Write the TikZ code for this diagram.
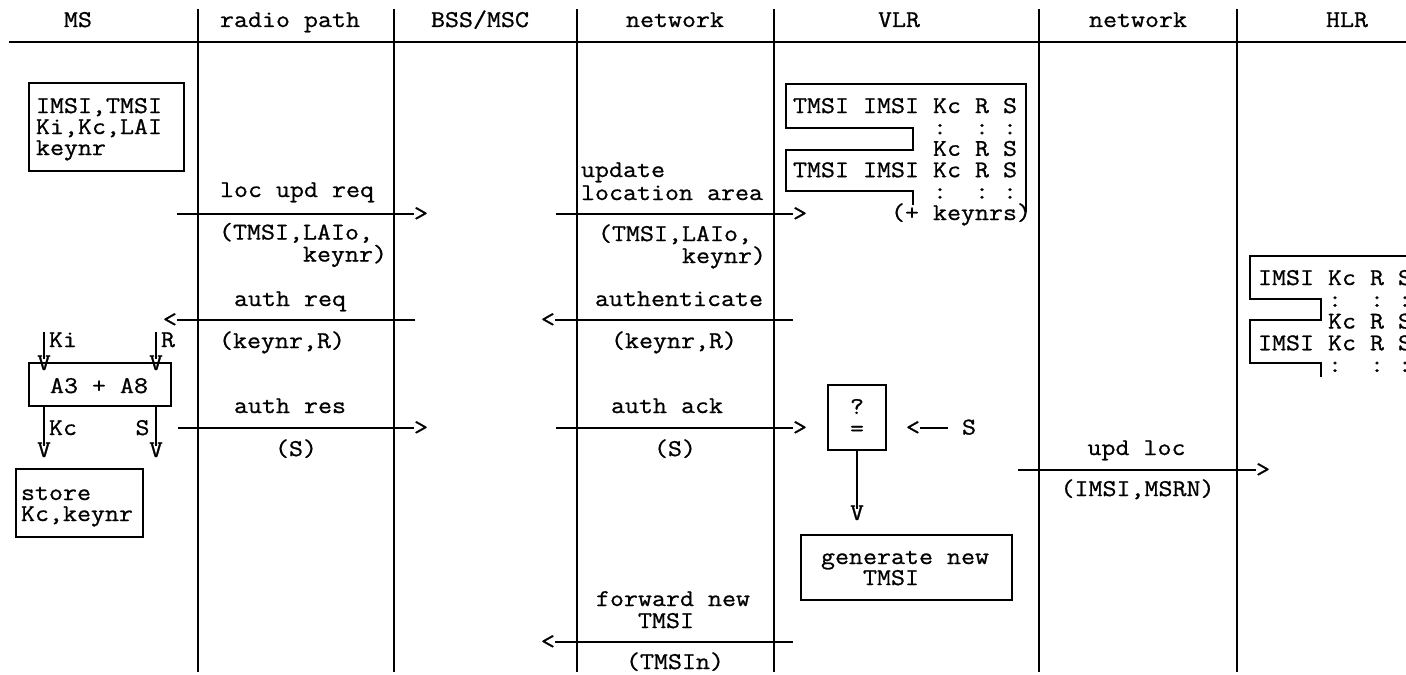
\documentclass[tikz,border=0pt]{standalone}
\usepackage{fontspec}
\newlength\chw
\settowidth\chw{\fontsize{12}{14}\selectfont\ttfamily M}
\pgfmathsetmacro\ttsx{7/\chw}
\newfontfamily\cour[FakeStretch=\ttsx,FakeBold=0.9]{lmmono12-regular.otf}
\newcommand\myfont{\fontsize{12}{14}\cour\frenchspacing}
\newcommand\stk[2]{\vtop{\baselineskip=#1\lineskiplimit=-50pt\relax\halign{##\hfil\cr#2\crcr}}}
\newcommand\stkc[2]{\vtop{\baselineskip=#1\lineskiplimit=-50pt\relax\halign{\hfil##\hfil\cr#2\crcr}}}
\begin{document}
\begin{tikzpicture}[x=0.5pt,y=-0.5pt,
  wire/.style={line width=1pt},
  box/.style={draw,line width=1pt,inner sep=0pt,outer sep=0pt},
  tx/.style={font=\myfont,inner sep=0pt,outer sep=0pt,anchor=base west},
  tc/.style={font=\myfont,inner sep=0pt,outer sep=0pt,anchor=base},
  gl/.style={font=\myfont,inner sep=0pt,outer sep=0pt,anchor=center}]
\useasboundingbox (0,0) rectangle (1406,674);
\clip (0,0) rectangle (1406,674);

% lifelines and header rule
\foreach \x/\n in {198/la,394/lb,577/lc,774/ld,1039/le,1237/lf}{
  \coordinate (\n t) at (\x,9);
  \coordinate (\n b) at (\x,672);
  \draw[wire] (\n t) -- (\n b);
}
\coordinate (hl) at (9,42);
\coordinate (hr) at (1410,42);
\draw[wire] (hl) -- (hr);

% header
\node[tc] (h1) at (78,27) {MS};
\node[tc] (h2) at (290,27) {radio path};
\node[tc] (h3) at (480,27) {BSS/MSC};
\node[tc] (h4) at (675,27) {network};
\node[tc] (h5) at (899,27) {VLR};
\node[tc] (h6) at (1138,27) {network};
\node[tc] (h7) at (1347,27) {HLR};

% MS data box
\node[box,minimum width=77.5pt,minimum height=44pt] (msbox) at (106.5,127) {};
\node[tx] (ms) at (36,113) {\stk{10.5pt}{IMSI,TMSI\cr Ki,Kc,LAI\cr keynr}};

% radio path messages
\node[tc] (m1) at (297,197) {loc upd req};
\coordinate (a1s) at (177,214);
\node[gl] (a1h) at (421,214) {>};
\draw[wire] (a1s) -- (a1h.west);
\node[tx] (p1) at (219,239.5) {\stk{11pt}{(TMSI,LAIo,\cr\hphantom{(TMSI,}keynr)}};

\node[tc] (m2) at (290,306) {auth req};
\node[gl] (a2h) at (170,320) {<};
\coordinate (a2s) at (415,320);
\draw[wire] (a2s) -- (a2h.east);
\node[tc] (p2) at (282,348) {(keynr,R)};

\node[tc] (m3) at (290,413) {auth res};
\coordinate (a3s) at (178,428);
\node[gl] (a3h) at (421,428) {>};
\draw[wire] (a3s) -- (a3h.west);
\node[tc] (p3) at (296,456) {(S)};

% MS algorithm
\coordinate (kis) at (44,332);
\node[tc] (v1) at (44,370) {V};
\draw[wire] (kis) -- ([yshift=-2pt]v1.north);
\node[tx] (ki) at (49,347) {Ki};
\coordinate (rs) at (156,332);
\node[tc] (v2) at (156,370) {V};
\draw[wire] (rs) -- ([yshift=-2pt]v2.north);
\node[tx] (rl) at (161,347) {R};
\node[box,minimum width=71pt,minimum height=21.5pt] (alg) at (100,384.5) {};
\node[tc] (algt) at (99,393) {A3 + A8};
\node[tc] (v3) at (44,457) {V};
\draw[wire] (v3.north |- alg.south) -- ([yshift=-2pt]v3.north);
\node[tx] (kc) at (49,435) {Kc};
\node[tc] (v4) at (156,457) {V};
\draw[wire] (v4.north |- alg.south) -- ([yshift=-2pt]v4.north);
\node[tc] (sl) at (142.5,435) {S};
\node[box,minimum width=63.5pt,minimum height=34pt] (store) at (79.5,503) {};
\node[tx] (st) at (21,500) {\stk{10.5pt}{store\cr Kc,keynr}};

% network messages
\node[tx] (u) at (581,177) {\stk{11.5pt}{update\cr location area}};
\coordinate (a4s) at (556,214);
\node[gl] (a4h) at (800,214) {>};
\draw[wire] (a4s) -- (a4h.west);
\node[tx] (p4) at (598,241) {\stk{11pt}{(TMSI,LAIo,\cr\hphantom{(TMSI,}keynr)}};

\node[tx] (m5) at (595,306) {authenticate};
\node[gl] (a5h) at (548,320) {<};
\coordinate (a5s) at (793,320);
\draw[wire] (a5s) -- (a5h.east);
\node[tc] (p5) at (674,348) {(keynr,R)};

\node[tc] (m6) at (667,413) {auth ack};
\coordinate (a6s) at (556,428);
\node[gl] (a6h) at (800,428) {>};
\draw[wire] (a6s) -- (a6h.west);
\node[tc] (p6) at (675,456) {(S)};

\node[tx] (f) at (596,606) {\stk{11pt}{forward new\cr\hphantom{for}TMSI}};
\node[gl] (a7h) at (548,642) {<};
\coordinate (a7s) at (793,642);
\draw[wire] (a7s) -- (a7h.east);
\node[tc] (p7) at (675,669) {(TMSIn)};

% VLR table
\coordinate (w0) at (1026,212);
\coordinate (w1) at (1026,84);
\coordinate (w2) at (786,84);
\coordinate (w3) at (786,128);
\coordinate (w4) at (913,128);
\coordinate (w5) at (913,150);
\coordinate (w6) at (786,150);
\coordinate (w7) at (786,191);
\coordinate (w8) at (913,191);
\coordinate (w9) at (913,205);
\draw[wire] (w0) -- (w1) -- (w2) -- (w3) -- (w4) -- (w5) -- (w6) -- (w7) -- (w8) -- (w9);
\node[tx] (vlrtab) at (793,113) {\stk{10.7pt}{TMSI IMSI Kc R S\cr
  \hphantom{TMSI~IMSI~}:~~:~:\cr
  \hphantom{TMSI~IMSI~}Kc R S\cr
  TMSI IMSI Kc R S\cr
  \hphantom{TMSI~IMSI~}:~~:~:\cr
  \hphantom{TMSI~IM}(+ keynrs)}};

% VLR comparison
\node[box,font=\myfont,minimum width=29pt,minimum height=32.5pt] (cmp) at (857,417.5) {\stkc{11pt}{?\cr=}};
\node[gl] (sa) at (913,428) {<};
\coordinate (sae) at (948,428);
\draw[wire] (sae) -- (sa.east);
\node[tc] (sv) at (969,434.5) {S};
\node[tc] (vd) at (857,520) {V};
\draw[wire] (cmp.south) -- ([yshift=-2pt]vd.north);
\node[box,minimum width=105.5pt,minimum height=32.5pt] (gen) at (906.5,567.5) {};
\node[tx] (g) at (821,564) {\stk{10.5pt}{generate new\cr\hphantom{gen}TMSI}};

% network to HLR
\node[tc] (m8) at (1136.5,455) {upd loc};
\coordinate (a8s) at (1018,470);
\node[gl] (a8h) at (1263,470) {>};
\draw[wire] (a8s) -- (a8h.west);
\node[tc] (p8) at (1137.5,496) {(IMSI,MSRN)};

% HLR table
\coordinate (z0) at (1410,256);
\coordinate (z1) at (1250,256);
\coordinate (z2) at (1250,299);
\coordinate (z3) at (1321,299);
\coordinate (z4) at (1321,320);
\coordinate (z5) at (1250,320);
\coordinate (z6) at (1250,363);
\coordinate (z7) at (1321,363);
\coordinate (z8) at (1321,377);
\draw[wire] (z0) -- (z1) -- (z2) -- (z3) -- (z4) -- (z5) -- (z6) -- (z7) -- (z8);
\node[tx] (hlrtab) at (1258,285) {\stk{10.875pt}{IMSI Kc R S\cr
  \hphantom{IMSI~}:~~:~:\cr
  \hphantom{IMSI~}Kc R S\cr
  IMSI Kc R S\cr
  \hphantom{IMSI~}:~~:~:}};
\end{tikzpicture}
\end{document}
